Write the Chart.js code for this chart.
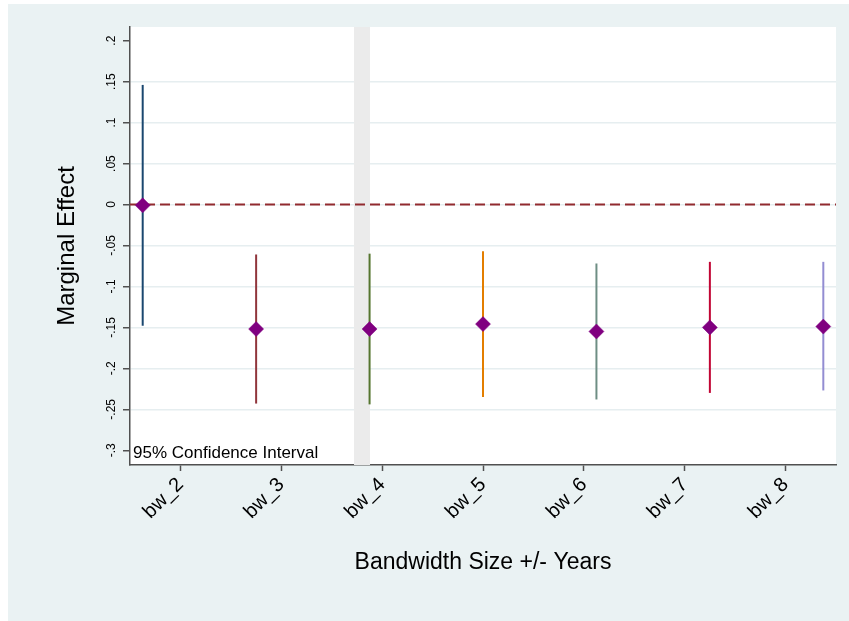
<!DOCTYPE html>
<html>
<head>
<meta charset="utf-8">
<script src="https://cdn.jsdelivr.net/npm/chart.js@4.4.1/dist/chart.umd.min.js"></script>
<style>
  html, body { margin: 0; padding: 0; background: #ffffff; }
  #wrap { position: absolute; left: 8px; top: 4px; width: 841px; height: 617px; }
</style>
</head>
<body>
<div id="wrap"><canvas id="chart" width="841" height="617"></canvas></div>
<script>
// Bandwidth models and their estimated marginal effects with 95% CI bounds
const categories = ['bw_2', 'bw_3', 'bw_4', 'bw_5', 'bw_6', 'bw_7', 'bw_8'];
const estimates  = [-0.001, -0.152, -0.152, -0.146, -0.155, -0.150, -0.149];
const ciLower    = [-0.148, -0.243, -0.244, -0.235, -0.238, -0.230, -0.227];
const ciUpper    = [ 0.146, -0.061, -0.060, -0.057, -0.072, -0.070, -0.070];

// Y axis ticks and their Stata-style labels
const yTickValues = [0.2, 0.15, 0.1, 0.05, 0, -0.05, -0.1, -0.15, -0.2, -0.25, -0.3];
const yTickLabels = ['.2', '.15', '.1', '.05', '0', '-.05', '-.1', '-.15', '-.2', '-.25', '-.3'];

// One colour per model (s2color palette)
const seriesColors = ['#1a476f', '#90353b', '#55752f', '#e37e00', '#6e8e84', '#c10534', '#938dd2'];

const FONT = "'Liberation Sans', Arial, sans-serif";
const GRAPH_BG = '#eaf2f3';
const AXIS_COLOR = '#505050';

// Each model is shifted from its category centre (coefplot-style offsets)
const seriesSpread = 1.1247;
const xOf = i => (categories.length / 2) + (i - (categories.length - 1) / 2) * seriesSpread;

// Shaded vertical reference band, in x-axis units
const bandFrom = 2.221, bandTo = 2.380;

const ciDatasets = categories.map((name, i) => ({
  type: 'line',
  label: name,
  data: [{ x: xOf(i), y: ciLower[i] }, { x: xOf(i), y: ciUpper[i] }],
  borderColor: seriesColors[i],
  borderWidth: 2,
  borderCapStyle: 'butt',
  pointRadius: 0,
  order: 1
}));

const estimateDataset = {
  type: 'scatter',
  label: 'Estimate',
  data: estimates.map((v, i) => ({ x: xOf(i), y: v })),
  pointStyle: 'rectRot',
  pointRadius: 7.5,
  backgroundColor: '#800080',
  borderColor: '#800080',
  borderWidth: 0.5,
  order: 0
};

// Graph region colour + white plot region
const backdrop = {
  id: 'backdrop',
  beforeDraw(chart) {
    const { ctx, chartArea: a } = chart;
    ctx.save();
    ctx.fillStyle = GRAPH_BG;
    ctx.fillRect(0, 0, chart.width, chart.height);
    ctx.fillStyle = '#ffffff';
    ctx.fillRect(a.left, a.top, a.right - a.left, a.bottom - a.top);
    ctx.restore();
  }
};

// Grey band and dashed zero line behind the data
const references = {
  id: 'references',
  beforeDatasetsDraw(chart) {
    const { ctx, chartArea: a, scales: { x, y } } = chart;
    ctx.save();
    const x0 = x.getPixelForValue(bandFrom), x1 = x.getPixelForValue(bandTo);
    ctx.fillStyle = '#ebebeb';
    ctx.fillRect(x0, a.top, x1 - x0, a.bottom - a.top);
    const y0 = y.getPixelForValue(0);
    ctx.strokeStyle = '#922a2f';
    ctx.lineWidth = 2;
    ctx.setLineDash([10, 5]);
    ctx.beginPath();
    ctx.moveTo(a.left, y0);
    ctx.lineTo(a.right, y0);
    ctx.stroke();
    ctx.restore();
  }
};

// Vertical y tick labels and the in-plot note
const annotations = {
  id: 'annotations',
  afterDraw(chart) {
    const { ctx, chartArea: a, scales: { y } } = chart;
    ctx.save();
    ctx.fillStyle = '#000000';
    ctx.font = '12px ' + FONT;
    ctx.textAlign = 'center';
    ctx.textBaseline = 'middle';
    yTickValues.forEach((v, i) => {
      ctx.save();
      ctx.translate(103.5, y.getPixelForValue(v));
      ctx.rotate(-Math.PI / 2);
      ctx.fillText(yTickLabels[i], 0, 0);
      ctx.restore();
    });
    ctx.font = '17px ' + FONT;
    ctx.textAlign = 'left';
    ctx.textBaseline = 'alphabetic';
    ctx.fillText('95% Confidence Interval', a.left + 3, a.bottom - 7);
    ctx.restore();
  }
};

new Chart(document.getElementById('chart'), {
  data: { datasets: [...ciDatasets, estimateDataset] },
  options: {
    responsive: false,
    animation: false,
    devicePixelRatio: 1,
    layout: { padding: { top: 23, right: 13, left: 0, bottom: 0 } },
    plugins: { legend: { display: false }, tooltip: { enabled: false } },
    scales: {
      x: {
        type: 'linear',
        min: 0,
        max: categories.length,
        afterBuildTicks(scale) {
          scale.ticks = categories.map((c, i) => ({ value: i + 0.5 }));
        },
        afterFit(scale) { scale.height = 156; },
        grid: {
          drawOnChartArea: false,
          tickLength: 6,
          tickColor: AXIS_COLOR,
          tickWidth: 1.5
        },
        border: { display: true, color: AXIS_COLOR, width: 1.5 },
        ticks: {
          autoSkip: false,
          minRotation: 45,
          maxRotation: 45,
          padding: 2,
          color: '#000000',
          font: { family: FONT, size: 20 },
          callback: (value, index) => categories[index]
        },
        title: {
          display: true,
          text: 'Bandwidth Size +/- Years',
          color: '#000000',
          font: { family: FONT, size: 23 },
          padding: { top: 0, bottom: 45 }
        }
      },
      y: {
        type: 'linear',
        min: -0.318,
        max: 0.2167,
        afterBuildTicks(scale) {
          scale.ticks = yTickValues.map(v => ({ value: v }));
        },
        afterFit(scale) { scale.width = 122; },
        grid: {
          color: ctx => (ctx.index === 0 || ctx.index === yTickValues.length - 1) ? 'rgba(0,0,0,0)' : '#e6eef0',
          lineWidth: 1.5,
          tickLength: 7,
          tickColor: AXIS_COLOR,
          tickWidth: 1.5
        },
        border: { display: true, color: AXIS_COLOR, width: 1.5 },
        ticks: { display: false },
        title: {
          display: true,
          text: 'Marginal Effect',
          color: '#000000',
          font: { family: FONT, size: 24 },
          padding: { top: 45, bottom: 0 }
        }
      }
    }
  },
  plugins: [backdrop, references, annotations]
});
</script>
</body>
</html>
